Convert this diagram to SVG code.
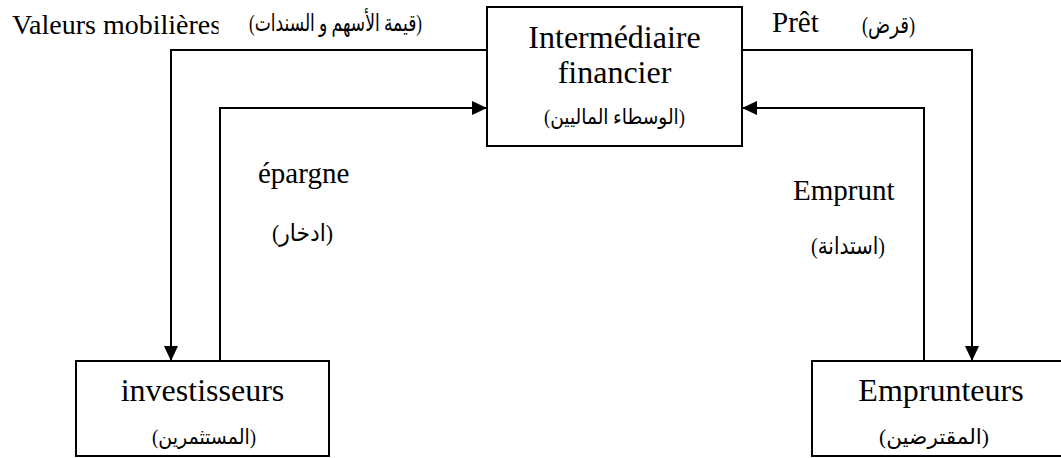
<svg xmlns="http://www.w3.org/2000/svg" width="1061" height="458" viewBox="0 0 1061 458">
  <style>
    .box { fill: #fff; stroke: #000; stroke-width: 2; }
    .link { fill: none; stroke: #000; stroke-width: 2; }
    text { fill: #000; }
    .fr { font-family: "Liberation Serif", "Times New Roman", serif; }
    .ar { font-family: "Liberation Serif", "DejaVu Sans", sans-serif; }
    .big { font-size: 32px; }
    .mid { font-size: 29px; }
    .arBox { font-size: 21px; }
    .arLbl { font-size: 24px; }
  </style>
  <defs>
    <marker id="arrow" markerUnits="userSpaceOnUse" markerWidth="16" markerHeight="14" refX="15" refY="7" orient="auto">
      <path d="M0,0 L15,7 L0,14 Z" fill="#000"/>
    </marker>
  </defs>
  <rect width="1061" height="458" fill="#fff"/>

  <!-- flows between the parties -->
  <g id="connectors">
    <!-- securities: intermediary -> investors -->
    <path class="link" d="M487,50 H171 V361" marker-end="url(#arrow)"/>
    <!-- savings: investors -> intermediary -->
    <path class="link" d="M220,361 V108 H487" marker-end="url(#arrow)"/>
    <!-- loan: intermediary -> borrowers -->
    <path class="link" d="M742,50 H972 V361" marker-end="url(#arrow)"/>
    <!-- borrowing: borrowers -> intermediary -->
    <path class="link" d="M924,361 V108 H742" marker-end="url(#arrow)"/>
  </g>

  <!-- flow labels -->
  <g id="labels">
    <text class="fr" font-size="28" x="12" y="34">Valeurs mobilières</text>
    <!-- the Arabic caption sits on an opaque field that trims the French one -->
    <rect x="218.5" y="4" width="211" height="38" fill="#fff"/>
    <text class="ar arLbl" x="335.5" y="31" text-anchor="middle" textLength="173" lengthAdjust="spacingAndGlyphs">(قيمة الأسهم و السندات)</text>
    <text class="fr mid" x="772" y="32">Prêt</text>
    <text class="ar arLbl" x="888.5" y="33" text-anchor="middle" textLength="53" lengthAdjust="spacingAndGlyphs">(قرض)</text>
    <text class="fr mid" x="258" y="183">épargne</text>
    <text class="ar arLbl" x="302.5" y="241" text-anchor="middle" textLength="61" lengthAdjust="spacingAndGlyphs">(ادخار)</text>
    <text class="fr mid" x="793" y="200">Emprunt</text>
    <text class="ar arLbl" x="848" y="254" text-anchor="middle" textLength="74" lengthAdjust="spacingAndGlyphs">(استدانة)</text>
  </g>

  <g id="intermediaire">
    <rect class="box" x="487" y="7" width="255" height="139"/>
    <text class="fr big" x="614.5" y="48" text-anchor="middle">Intermédiaire</text>
    <text class="fr big" x="614.5" y="83" text-anchor="middle">financier</text>
    <text class="ar arBox" x="614.5" y="124" text-anchor="middle" textLength="141" lengthAdjust="spacingAndGlyphs">(الوسطاء الماليين)</text>
  </g>

  <g id="investisseurs">
    <rect class="box" x="76" y="361" width="253" height="95"/>
    <text class="fr big" x="202.5" y="401" text-anchor="middle">investisseurs</text>
    <text class="ar arBox" x="204" y="444" text-anchor="middle" textLength="104" lengthAdjust="spacingAndGlyphs">(المستثمرين)</text>
  </g>

  <g id="emprunteurs">
    <rect class="box" x="812" y="361" width="258" height="95"/>
    <text class="fr big" x="941" y="401" text-anchor="middle">Emprunteurs</text>
    <text class="ar arBox" x="934" y="444" text-anchor="middle" textLength="110" lengthAdjust="spacingAndGlyphs">(المقترضين)</text>
  </g>
</svg>
